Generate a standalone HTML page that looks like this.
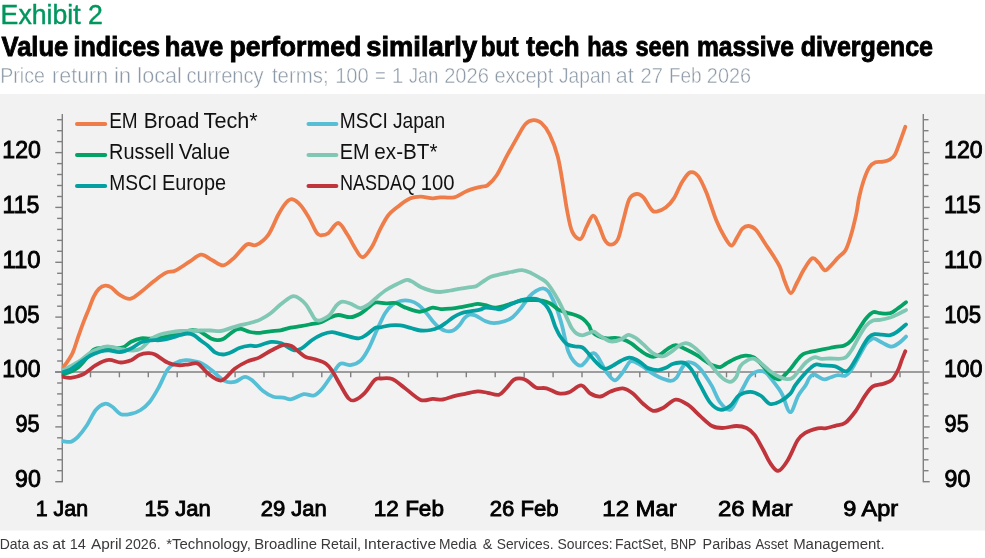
<!DOCTYPE html>
<html><head><meta charset="utf-8"><title>Exhibit 2</title>
<style>html,body{margin:0;padding:0;background:#fff;width:985px;height:558px;overflow:hidden}svg{display:block}</style>
</head><body>
<svg width="985" height="558" viewBox="0 0 985 558">
<rect x="0" y="0" width="985" height="558" fill="#fff"/>
<rect x="0" y="94" width="985" height="436.6" fill="#F2F2F2"/>
<text x="0.6" y="23.6" font-family="Liberation Sans, sans-serif" font-size="28" fill="#00965E" stroke="#00965E" stroke-width="0.45" textLength="102.3" lengthAdjust="spacingAndGlyphs">Exhibit 2</text>
<g font-family="Liberation Sans, sans-serif" font-size="27.5" font-weight="bold" fill="#000" stroke="#000" stroke-width="0.9"><text y="55.7" x="1.53" textLength="66.8" lengthAdjust="spacingAndGlyphs">Value</text><text y="55.7" x="73.53" textLength="86.57" lengthAdjust="spacingAndGlyphs">indices</text><text y="55.7" x="164.8" textLength="58.41" lengthAdjust="spacingAndGlyphs">have</text><text y="55.7" x="229.39" textLength="131.93" lengthAdjust="spacingAndGlyphs">performed</text><text y="55.7" x="366.2" textLength="111.01" lengthAdjust="spacingAndGlyphs">similarly</text><text y="55.7" x="480.8" textLength="37.7" lengthAdjust="spacingAndGlyphs">but</text><text y="55.7" x="526.3" textLength="53.22" lengthAdjust="spacingAndGlyphs">tech</text><text y="55.7" x="587.21" textLength="40.64" lengthAdjust="spacingAndGlyphs">has</text><text y="55.7" x="635.47" textLength="53.85" lengthAdjust="spacingAndGlyphs">seen</text><text y="55.7" x="696.88" textLength="97.14" lengthAdjust="spacingAndGlyphs">massive</text><text y="55.7" x="800.72" textLength="132.31" lengthAdjust="spacingAndGlyphs">divergence</text></g>
<g font-family="Liberation Sans, sans-serif" font-size="21.2" fill="#8C99A7" stroke="#fff" stroke-width="0.45" paint-order="fill stroke"><text y="83.1" x="0.18" textLength="44.67" lengthAdjust="spacingAndGlyphs">Price</text><text y="83.1" x="52.08" textLength="56.1" lengthAdjust="spacingAndGlyphs">return</text><text y="83.1" x="113.92" textLength="17.36" lengthAdjust="spacingAndGlyphs">in</text><text y="83.1" x="137.37" textLength="44.49" lengthAdjust="spacingAndGlyphs">local</text><text y="83.1" x="186.55" textLength="77.09" lengthAdjust="spacingAndGlyphs">currency</text><text y="83.1" x="271.96" textLength="56.63" lengthAdjust="spacingAndGlyphs">terms;</text><text y="83.1" x="335.17" textLength="33.64" lengthAdjust="spacingAndGlyphs">100</text><text y="83.1" x="375.12" textLength="10.87" lengthAdjust="spacingAndGlyphs">=</text><text y="83.1" x="391.82" textLength="11.61" lengthAdjust="spacingAndGlyphs">1</text><text y="83.1" x="409.07" textLength="29.14" lengthAdjust="spacingAndGlyphs">Jan</text><text y="83.1" x="444.15" textLength="44.8" lengthAdjust="spacingAndGlyphs">2026</text><text y="83.1" x="494.46" textLength="58.82" lengthAdjust="spacingAndGlyphs">except</text><text y="83.1" x="559.05" textLength="52.19" lengthAdjust="spacingAndGlyphs">Japan</text><text y="83.1" x="615.89" textLength="17.89" lengthAdjust="spacingAndGlyphs">at</text><text y="83.1" x="640.45" textLength="22.48" lengthAdjust="spacingAndGlyphs">27</text><text y="83.1" x="668.93" textLength="32.76" lengthAdjust="spacingAndGlyphs">Feb</text><text y="83.1" x="706.86" textLength="44.17" lengthAdjust="spacingAndGlyphs">2026</text></g>
<g stroke="#808080" stroke-width="1.4" fill="none"><line x1="62.3" y1="114" x2="62.3" y2="482.2" /><line x1="923.3" y1="114" x2="923.3" y2="482.2" /><line x1="55.3" y1="481.7" x2="62.3" y2="481.7" /><line x1="923.3" y1="481.7" x2="929.6999999999999" y2="481.7" /><line x1="57.099999999999994" y1="470.7" x2="62.3" y2="470.7" /><line x1="923.3" y1="470.7" x2="928.5" y2="470.7" /><line x1="57.099999999999994" y1="459.8" x2="62.3" y2="459.8" /><line x1="923.3" y1="459.8" x2="928.5" y2="459.8" /><line x1="57.099999999999994" y1="448.8" x2="62.3" y2="448.8" /><line x1="923.3" y1="448.8" x2="928.5" y2="448.8" /><line x1="57.099999999999994" y1="437.8" x2="62.3" y2="437.8" /><line x1="923.3" y1="437.8" x2="928.5" y2="437.8" /><line x1="55.3" y1="426.9" x2="62.3" y2="426.9" /><line x1="923.3" y1="426.9" x2="929.6999999999999" y2="426.9" /><line x1="57.099999999999994" y1="415.9" x2="62.3" y2="415.9" /><line x1="923.3" y1="415.9" x2="928.5" y2="415.9" /><line x1="57.099999999999994" y1="404.9" x2="62.3" y2="404.9" /><line x1="923.3" y1="404.9" x2="928.5" y2="404.9" /><line x1="57.099999999999994" y1="393.9" x2="62.3" y2="393.9" /><line x1="923.3" y1="393.9" x2="928.5" y2="393.9" /><line x1="57.099999999999994" y1="383.0" x2="62.3" y2="383.0" /><line x1="923.3" y1="383.0" x2="928.5" y2="383.0" /><line x1="55.3" y1="372.0" x2="62.3" y2="372.0" /><line x1="923.3" y1="372.0" x2="929.6999999999999" y2="372.0" /><line x1="57.099999999999994" y1="361.0" x2="62.3" y2="361.0" /><line x1="923.3" y1="361.0" x2="928.5" y2="361.0" /><line x1="57.099999999999994" y1="350.1" x2="62.3" y2="350.1" /><line x1="923.3" y1="350.1" x2="928.5" y2="350.1" /><line x1="57.099999999999994" y1="339.1" x2="62.3" y2="339.1" /><line x1="923.3" y1="339.1" x2="928.5" y2="339.1" /><line x1="57.099999999999994" y1="328.1" x2="62.3" y2="328.1" /><line x1="923.3" y1="328.1" x2="928.5" y2="328.1" /><line x1="55.3" y1="317.1" x2="62.3" y2="317.1" /><line x1="923.3" y1="317.1" x2="929.6999999999999" y2="317.1" /><line x1="57.099999999999994" y1="306.2" x2="62.3" y2="306.2" /><line x1="923.3" y1="306.2" x2="928.5" y2="306.2" /><line x1="57.099999999999994" y1="295.2" x2="62.3" y2="295.2" /><line x1="923.3" y1="295.2" x2="928.5" y2="295.2" /><line x1="57.099999999999994" y1="284.2" x2="62.3" y2="284.2" /><line x1="923.3" y1="284.2" x2="928.5" y2="284.2" /><line x1="57.099999999999994" y1="273.3" x2="62.3" y2="273.3" /><line x1="923.3" y1="273.3" x2="928.5" y2="273.3" /><line x1="55.3" y1="262.3" x2="62.3" y2="262.3" /><line x1="923.3" y1="262.3" x2="929.6999999999999" y2="262.3" /><line x1="57.099999999999994" y1="251.3" x2="62.3" y2="251.3" /><line x1="923.3" y1="251.3" x2="928.5" y2="251.3" /><line x1="57.099999999999994" y1="240.4" x2="62.3" y2="240.4" /><line x1="923.3" y1="240.4" x2="928.5" y2="240.4" /><line x1="57.099999999999994" y1="229.4" x2="62.3" y2="229.4" /><line x1="923.3" y1="229.4" x2="928.5" y2="229.4" /><line x1="57.099999999999994" y1="218.4" x2="62.3" y2="218.4" /><line x1="923.3" y1="218.4" x2="928.5" y2="218.4" /><line x1="55.3" y1="207.4" x2="62.3" y2="207.4" /><line x1="923.3" y1="207.4" x2="929.6999999999999" y2="207.4" /><line x1="57.099999999999994" y1="196.5" x2="62.3" y2="196.5" /><line x1="923.3" y1="196.5" x2="928.5" y2="196.5" /><line x1="57.099999999999994" y1="185.5" x2="62.3" y2="185.5" /><line x1="923.3" y1="185.5" x2="928.5" y2="185.5" /><line x1="57.099999999999994" y1="174.5" x2="62.3" y2="174.5" /><line x1="923.3" y1="174.5" x2="928.5" y2="174.5" /><line x1="57.099999999999994" y1="163.6" x2="62.3" y2="163.6" /><line x1="923.3" y1="163.6" x2="928.5" y2="163.6" /><line x1="55.3" y1="152.6" x2="62.3" y2="152.6" /><line x1="923.3" y1="152.6" x2="929.6999999999999" y2="152.6" /><line x1="57.099999999999994" y1="141.6" x2="62.3" y2="141.6" /><line x1="923.3" y1="141.6" x2="928.5" y2="141.6" /><line x1="57.099999999999994" y1="130.7" x2="62.3" y2="130.7" /><line x1="923.3" y1="130.7" x2="928.5" y2="130.7" /><line x1="57.099999999999994" y1="119.7" x2="62.3" y2="119.7" /><line x1="923.3" y1="119.7" x2="928.5" y2="119.7" /><line x1="55" y1="372.0" x2="923.3" y2="372.0" /><line x1="90.5" y1="372.0" x2="90.5" y2="377.3" /><line x1="119.4" y1="372.0" x2="119.4" y2="377.3" /><line x1="148.3" y1="372.0" x2="148.3" y2="377.3" /><line x1="177.2" y1="372.0" x2="177.2" y2="377.3" /><line x1="206.2" y1="372.0" x2="206.2" y2="377.3" /><line x1="235.1" y1="372.0" x2="235.1" y2="377.3" /><line x1="264.0" y1="372.0" x2="264.0" y2="377.3" /><line x1="292.9" y1="372.0" x2="292.9" y2="377.3" /><line x1="321.8" y1="372.0" x2="321.8" y2="377.3" /><line x1="350.7" y1="372.0" x2="350.7" y2="377.3" /><line x1="379.6" y1="372.0" x2="379.6" y2="377.3" /><line x1="408.5" y1="372.0" x2="408.5" y2="377.3" /><line x1="437.4" y1="372.0" x2="437.4" y2="377.3" /><line x1="466.3" y1="372.0" x2="466.3" y2="377.3" /><line x1="495.2" y1="372.0" x2="495.2" y2="377.3" /><line x1="524.2" y1="372.0" x2="524.2" y2="377.3" /><line x1="553.1" y1="372.0" x2="553.1" y2="377.3" /><line x1="582.0" y1="372.0" x2="582.0" y2="377.3" /><line x1="610.9" y1="372.0" x2="610.9" y2="377.3" /><line x1="639.8" y1="372.0" x2="639.8" y2="377.3" /><line x1="668.7" y1="372.0" x2="668.7" y2="377.3" /><line x1="697.6" y1="372.0" x2="697.6" y2="377.3" /><line x1="726.5" y1="372.0" x2="726.5" y2="377.3" /><line x1="755.4" y1="372.0" x2="755.4" y2="377.3" /><line x1="784.4" y1="372.0" x2="784.4" y2="377.3" /><line x1="813.3" y1="372.0" x2="813.3" y2="377.3" /><line x1="842.2" y1="372.0" x2="842.2" y2="377.3" /><line x1="871.1" y1="372.0" x2="871.1" y2="377.3" /><line x1="900.0" y1="372.0" x2="900.0" y2="377.3" /></g>
<defs><clipPath id="pc"><rect x="61.7" y="94" width="900" height="437"/></clipPath></defs><g clip-path="url(#pc)" fill="none" stroke-width="3.8" stroke-linecap="round" stroke-linejoin="round">
<path d="M62.0,368.7C62.8,367.6 65.3,364.6 66.9,362.4C68.5,360.1 70.2,357.3 71.4,355.2C72.6,353.1 72.6,353.3 73.8,350.0C75.0,346.7 77.1,340.0 78.8,335.2C80.5,330.4 82.1,325.8 83.8,321.4C85.5,317.0 87.2,313.1 88.9,308.9C90.6,304.7 92.2,299.6 93.9,296.3C95.6,293.0 97.0,290.6 98.9,288.8C100.8,287.0 103.1,285.8 105.2,285.6C107.3,285.4 109.1,286.0 111.4,287.5C113.7,289.0 115.9,292.5 119.0,294.4C122.1,296.3 126.3,299.3 130.0,298.9C133.7,298.5 137.3,294.7 141.2,291.8C145.1,288.9 149.3,284.8 153.4,281.6C157.5,278.5 161.9,274.8 165.6,272.9C169.3,271.0 171.6,272.4 175.7,270.5C179.8,268.6 185.8,263.9 190.0,261.3C194.2,258.7 197.4,254.8 201.1,254.6C204.8,254.4 208.6,258.5 212.3,260.3C216.0,262.1 219.8,265.9 223.5,265.4C227.2,264.9 230.7,260.8 234.6,257.3C238.5,253.8 243.2,246.6 246.8,244.5C250.4,242.4 252.5,246.6 256.1,245.0C259.7,243.4 264.6,239.9 268.3,234.8C272.0,229.7 275.4,219.9 278.4,214.5C281.4,209.1 284.1,204.8 286.5,202.3C288.9,199.8 290.2,198.8 292.6,199.3C295.0,199.8 298.1,202.4 300.8,205.4C303.5,208.4 306.2,213.0 308.9,217.6C311.6,222.2 314.8,230.3 317.0,233.2C319.2,236.1 320.2,235.2 322.1,235.2C324.0,235.2 325.5,235.2 328.2,233.2C330.9,231.2 335.1,222.7 338.3,223.0C341.5,223.3 344.6,230.5 347.5,234.8C350.4,239.1 353.1,245.3 355.6,249.0C358.1,252.7 360.0,257.5 362.7,257.2C365.4,256.9 368.9,251.6 371.8,247.0C374.7,242.4 377.3,234.9 380.0,229.7C382.7,224.4 385.1,219.4 388.1,215.5C391.1,211.6 394.5,209.3 398.2,206.4C401.9,203.5 406.7,199.9 410.4,198.3C414.1,196.7 416.9,196.6 420.6,196.6C424.3,196.6 429.5,198.2 432.7,198.3C435.9,198.4 436.4,197.5 440.0,197.3C443.6,197.1 449.8,198.3 454.2,197.3C458.6,196.3 462.0,192.9 466.4,191.2C470.8,189.4 477.1,187.8 480.6,186.8C484.2,185.8 485.0,187.1 487.7,185.1C490.4,183.1 493.7,179.9 496.9,175.0C500.1,170.1 503.6,162.0 507.0,155.7C510.4,149.4 514.2,142.7 517.2,137.4C520.2,132.2 522.6,127.1 525.3,124.2C528.0,121.3 530.7,120.4 533.4,120.2C536.1,120.0 538.8,120.8 541.5,123.2C544.2,125.6 546.9,128.8 549.6,134.4C552.3,140.0 555.6,148.3 557.8,156.7C560.0,165.1 561.5,176.1 563.0,185.0C564.5,193.9 565.5,202.2 567.0,210.0C568.5,217.8 570.0,227.1 572.3,231.9C574.5,236.7 578.1,239.8 580.5,239.0C582.9,238.2 584.4,230.8 586.5,226.9C588.6,223.0 591.0,216.0 593.0,215.7C595.0,215.3 596.7,220.8 598.7,224.8C600.7,228.9 602.8,236.7 604.8,240.0C606.8,243.3 608.7,244.9 610.9,244.7C613.1,244.5 616.0,243.0 618.0,239.0C620.0,235.0 621.2,227.4 623.1,220.8C625.0,214.2 627.0,203.9 629.2,199.4C631.4,194.9 633.9,194.3 636.3,194.0C638.7,193.7 640.9,194.8 643.4,197.4C645.9,200.0 649.3,207.2 651.5,209.6C653.7,212.0 654.2,211.9 656.6,211.6C659.0,211.3 662.8,209.8 665.7,207.6C668.6,205.4 671.2,202.6 673.9,198.4C676.6,194.2 679.3,186.5 682.0,182.2C684.7,177.9 687.4,173.4 690.1,172.4C692.8,171.4 695.5,172.8 698.2,176.1C700.9,179.4 703.2,184.9 706.3,192.3C709.3,199.8 713.5,213.4 716.5,220.8C719.5,228.2 722.1,232.9 724.6,237.0C727.1,241.1 729.3,245.5 731.4,245.6C733.5,245.7 735.2,240.4 737.0,237.6C738.8,234.8 740.4,230.6 742.4,228.7C744.4,226.8 746.5,225.8 748.7,226.0C750.9,226.2 753.1,226.8 755.8,229.6C758.5,232.4 761.8,238.5 764.8,243.0C767.8,247.5 771.3,252.5 773.8,256.5C776.3,260.5 778.2,263.2 780.0,267.2C781.8,271.2 782.7,276.4 784.5,280.7C786.3,285.0 788.7,292.9 790.8,293.2C792.9,293.5 794.9,286.5 797.1,282.5C799.3,278.5 801.7,273.0 804.2,269.0C806.7,265.0 809.9,259.4 812.3,258.3C814.7,257.2 816.5,260.7 818.6,262.7C820.7,264.7 822.8,269.9 824.9,270.3C827.0,270.8 828.9,267.5 831.1,265.4C833.3,263.2 835.9,259.9 838.3,257.4C840.7,254.9 843.4,253.8 845.5,250.2C847.6,246.6 849.0,241.8 850.8,235.8C852.6,229.8 854.8,220.6 856.2,214.3C857.6,208.0 857.8,203.6 859.0,198.0C860.2,192.4 861.8,186.1 863.5,181.0C865.2,175.9 867.4,170.3 869.4,167.2C871.4,164.1 873.1,163.2 875.4,162.3C877.7,161.4 880.8,162.2 883.3,161.7C885.8,161.2 888.2,160.5 890.2,159.3C892.2,158.1 893.5,157.4 895.1,154.4C896.7,151.4 898.3,146.2 900.0,141.6C901.7,137.0 904.4,129.3 905.3,126.8" stroke="#EF7D4A" />
<path d="M62.5,441.1C63.9,441.2 68.2,442.5 70.8,441.8C73.4,441.1 75.2,439.6 77.9,436.9C80.6,434.1 83.9,429.8 86.9,425.3C89.9,420.8 92.8,413.6 95.8,410.0C98.8,406.4 102.1,404.4 104.8,403.8C107.5,403.2 109.3,404.8 112.0,406.5C114.7,408.2 117.6,413.0 120.9,414.2C124.2,415.4 128.4,414.3 131.7,413.6C135.0,412.9 137.7,411.9 140.7,410.0C143.7,408.1 146.6,405.7 149.6,402.0C152.6,398.3 155.6,393.0 158.6,387.6C161.6,382.2 164.8,373.7 167.5,369.7C170.2,365.7 171.7,365.0 174.7,363.4C177.7,361.8 181.9,360.5 185.5,360.2C189.1,359.9 193.4,361.1 196.2,361.7C199.0,362.3 199.5,362.2 202.2,363.7C204.9,365.2 208.6,367.9 212.3,370.8C216.0,373.7 220.8,379.0 224.5,380.9C228.2,382.8 231.3,382.6 234.7,381.9C238.1,381.2 241.8,377.1 244.8,376.9C247.8,376.7 249.8,378.5 252.9,380.9C256.0,383.3 259.7,388.5 263.1,391.1C266.5,393.8 269.8,395.7 273.2,396.8C276.6,397.9 280.3,397.2 283.4,397.6C286.4,398.0 288.1,399.8 291.5,399.2C294.9,398.6 300.0,394.7 303.7,394.1C307.4,393.5 310.8,396.4 313.9,395.5C316.9,394.6 319.0,392.4 322.0,389.0C325.0,385.6 329.1,379.0 332.1,374.8C335.2,370.6 337.2,365.3 340.3,363.7C343.4,362.1 347.0,365.6 350.4,365.1C353.8,364.6 357.6,363.4 360.6,360.6C363.7,357.8 366.0,353.5 368.7,348.4C371.4,343.3 374.9,334.4 376.8,330.2C378.7,326.0 378.6,326.2 380.0,323.4C381.4,320.6 383.1,316.2 385.1,313.2C387.1,310.1 389.7,307.1 392.2,305.1C394.7,303.1 397.2,301.7 400.3,301.0C403.4,300.3 407.4,300.3 410.5,301.0C413.6,301.7 416.1,303.2 418.6,305.1C421.1,307.0 423.3,309.5 425.7,312.2C428.1,314.9 430.6,318.8 432.8,321.3C435.0,323.8 436.7,325.8 438.9,327.4C441.1,329.0 443.6,330.5 446.0,331.0C448.4,331.5 450.9,331.4 453.1,330.5C455.3,329.6 457.3,327.4 459.2,325.4C461.1,323.4 462.6,320.1 464.3,318.3C466.0,316.5 467.5,315.2 469.3,314.7C471.1,314.2 472.7,314.4 475.4,315.5C478.1,316.6 482.6,320.0 485.7,321.3C488.8,322.6 490.7,323.1 493.8,323.1C496.9,323.1 501.4,322.3 504.5,321.3C507.6,320.3 509.8,319.5 512.6,317.2C515.4,314.9 518.4,311.1 521.2,307.7C524.0,304.2 526.8,299.3 529.3,296.5C531.8,293.7 533.8,292.2 536.1,290.8C538.4,289.4 541.2,288.2 543.2,288.3C545.2,288.4 546.8,289.6 548.3,291.3C549.8,293.0 550.9,295.7 552.3,298.4C553.6,301.1 555.2,304.6 556.4,307.6C557.6,310.7 558.4,313.6 559.4,316.7C560.4,319.8 561.2,322.4 562.2,326.2C563.2,330.0 564.2,335.2 565.2,339.4C566.2,343.6 566.9,347.9 568.3,351.5C569.7,355.1 571.4,358.3 573.4,360.7C575.4,363.1 578.5,365.5 580.5,365.7C582.5,365.9 583.8,363.5 585.5,361.7C587.2,359.9 589.2,356.0 590.6,354.6C592.0,353.2 592.5,352.8 593.7,353.1C594.9,353.4 596.2,354.5 597.7,356.6C599.2,358.7 601.3,363.1 602.8,365.7C604.3,368.3 604.5,369.8 606.5,372.2C608.5,374.6 612.0,380.3 614.7,380.3C617.4,380.3 620.2,375.3 622.8,372.2C625.4,369.1 628.0,363.1 630.2,361.5C632.5,359.9 634.1,361.8 636.3,362.7C638.5,363.6 641.4,365.5 643.4,366.8C645.4,368.1 645.6,369.0 648.1,370.6C650.6,372.2 654.6,375.0 658.3,376.7C662.0,378.4 667.5,380.6 670.5,380.8C673.5,381.0 674.6,379.7 676.5,377.7C678.4,375.7 679.9,371.1 681.6,368.6C683.3,366.1 684.7,363.4 686.7,362.5C688.7,361.6 691.4,362.3 693.8,363.5C696.2,364.7 698.9,367.4 700.9,369.6C702.9,371.8 704.1,373.9 706.0,376.7C707.9,379.5 709.7,382.1 712.1,386.4C714.5,390.7 717.2,398.7 720.3,402.6C723.3,406.5 727.4,410.7 730.4,409.7C733.4,408.7 736.2,400.5 738.5,396.5C740.8,392.5 742.2,389.2 744.2,385.7C746.2,382.2 747.9,377.9 750.3,375.5C752.7,373.1 755.9,371.5 758.4,371.0C760.9,370.5 763.1,370.9 765.5,372.5C767.9,374.1 770.4,377.9 772.6,380.6C774.8,383.3 777.0,386.3 778.7,388.7C780.4,391.1 780.7,391.3 782.6,395.2C784.5,399.1 787.6,412.1 790.2,412.2C792.8,412.3 795.7,400.1 798.3,395.6C800.9,391.1 804.0,388.0 805.8,385.1C807.6,382.2 808.0,379.8 809.3,378.0C810.6,376.2 812.2,374.6 813.7,374.4C815.2,374.1 816.2,375.7 818.0,376.5C819.8,377.3 822.2,379.3 824.4,379.4C826.5,379.5 828.6,377.9 830.9,377.2C833.2,376.5 835.6,375.3 838.0,375.1C840.4,374.9 843.3,376.3 845.2,375.8C847.1,375.3 848.1,373.9 849.5,372.2C850.9,370.5 851.1,370.3 853.8,365.8C856.4,361.3 862.7,349.3 865.4,345.0C868.1,340.7 868.6,341.3 870.1,340.2C871.6,339.1 872.2,338.0 874.4,338.5C876.5,339.0 880.1,341.8 883.0,343.1C885.9,344.5 889.0,346.6 891.6,346.6C894.2,346.6 896.4,344.8 898.8,343.1C901.2,341.4 904.8,337.7 906.0,336.6" stroke="#56BFD6" />
<path d="M62.0,374.0C63.3,373.7 67.3,373.1 70.0,372.0C72.7,370.9 75.5,369.5 78.0,367.5C80.5,365.5 82.9,362.4 85.0,360.0C87.1,357.6 88.8,354.8 90.5,353.0C92.2,351.2 92.1,349.9 95.0,349.0C97.9,348.1 104.7,347.7 108.0,347.5C111.3,347.3 112.5,348.0 115.0,348.0C117.5,348.0 120.3,348.4 123.0,347.4C125.7,346.4 128.1,343.3 131.1,341.8C134.1,340.3 138.0,338.8 141.2,338.3C144.3,337.8 146.8,338.7 150.0,338.6C153.2,338.5 156.8,338.1 160.2,337.6C163.6,337.1 166.9,336.4 170.3,335.5C173.7,334.6 177.1,333.4 180.5,332.5C183.9,331.6 187.6,330.6 190.6,330.3C193.6,330.1 196.3,330.3 198.7,331.0C201.1,331.7 202.8,333.3 204.8,334.5C206.8,335.7 208.9,337.5 210.9,338.4C212.9,339.3 215.0,340.0 217.0,340.1C219.0,340.2 221.1,340.0 223.1,339.1C225.1,338.2 227.0,336.1 229.2,334.5C231.4,332.9 234.3,330.3 236.3,329.4C238.3,328.5 239.1,328.5 241.4,328.9C243.7,329.3 246.9,331.4 250.0,332.0C253.1,332.6 256.8,332.9 260.2,332.8C263.6,332.7 266.9,331.7 270.3,331.3C273.7,330.9 277.1,330.9 280.5,330.3C283.9,329.7 287.2,328.4 290.6,327.7C294.0,327.0 297.4,326.8 300.8,326.2C304.2,325.6 307.5,324.9 310.9,324.2C314.3,323.5 318.1,323.1 321.1,322.1C324.2,321.1 326.3,319.3 329.2,318.1C332.1,316.9 334.8,315.1 338.3,315.0C341.8,314.9 346.5,317.4 350.2,317.2C353.9,317.0 357.3,315.3 360.3,313.7C363.3,312.1 365.9,309.5 368.4,307.6C370.9,305.7 372.6,303.2 375.5,302.5C378.4,301.8 382.3,303.2 385.7,303.3C389.1,303.4 392.5,302.3 395.8,303.0C399.1,303.7 401.6,306.2 405.4,307.6C409.2,309.1 415.2,311.3 418.6,311.7C422.0,312.1 423.3,310.9 425.7,310.2C428.1,309.5 430.3,307.8 432.8,307.6C435.3,307.4 437.8,308.9 440.9,309.1C443.9,309.3 447.7,308.9 451.1,308.6C454.5,308.3 457.8,307.7 461.2,307.1C464.6,306.5 468.7,305.6 471.4,305.1C474.1,304.6 475.2,303.9 477.6,303.9C480.0,303.9 482.7,304.6 485.7,305.2C488.7,305.8 491.6,307.9 495.8,307.7C500.0,307.4 506.9,304.9 511.1,303.7C515.3,302.5 517.8,301.2 521.2,300.6C524.6,300.0 527.9,300.1 531.4,300.1C534.9,300.1 539.1,299.9 542.2,300.5C545.4,301.1 547.6,302.0 550.3,303.5C553.0,305.0 555.7,308.1 558.4,309.6C561.1,311.1 563.6,311.7 566.5,312.6C569.4,313.5 573.0,314.2 575.7,315.2C578.4,316.2 580.6,317.0 582.8,318.7C585.0,320.4 587.4,323.2 588.9,325.3C590.4,327.4 590.0,329.4 591.6,331.2C593.2,333.0 596.2,335.1 598.7,336.3C601.2,337.5 604.2,338.1 606.9,338.3C609.6,338.6 612.3,337.6 615.0,337.8C617.7,338.0 620.4,338.5 623.1,339.4C625.8,340.3 628.4,341.6 631.2,343.4C634.0,345.2 637.5,348.5 640.0,350.3C642.5,352.1 643.9,353.3 646.1,354.4C648.3,355.5 650.8,356.9 653.2,356.9C655.6,356.9 657.8,355.8 660.3,354.4C662.8,353.0 665.9,349.8 668.4,348.3C670.9,346.8 673.1,345.3 675.5,345.2C677.9,345.1 680.1,346.7 682.6,347.8C685.1,348.9 688.1,350.4 690.8,351.8C693.5,353.2 696.4,354.8 698.9,356.4C701.4,358.0 703.6,360.0 706.0,361.5C708.4,363.0 710.7,364.6 713.1,365.5C715.5,366.4 718.0,367.4 720.2,367.1C722.4,366.8 723.6,365.0 726.3,363.5C728.9,362.0 733.0,359.6 736.1,358.3C739.2,357.0 742.3,355.9 745.2,355.7C748.1,355.5 750.9,356.0 753.4,357.3C755.9,358.6 758.0,360.9 760.5,363.4C763.0,365.9 766.2,370.1 768.6,372.5C771.0,374.9 772.9,377.0 774.7,378.1C776.6,379.2 778.0,379.6 779.7,379.1C781.4,378.6 782.9,376.8 784.8,375.0C786.7,373.2 788.9,370.8 790.9,368.4C792.9,365.9 795.0,362.7 797.0,360.3C799.0,357.9 800.7,355.6 803.1,354.2C805.5,352.8 808.2,352.5 811.2,351.7C814.2,350.9 818.3,350.2 821.4,349.6C824.5,349.0 827.4,348.5 830.0,348.0C832.6,347.5 834.8,347.0 837.2,346.6C839.6,346.2 841.9,346.7 844.3,345.6C846.7,344.5 849.1,342.9 851.5,340.2C853.9,337.5 856.3,333.0 858.7,329.4C861.1,325.8 863.4,321.6 865.8,318.7C868.2,315.8 870.6,313.1 873.0,312.2C875.4,311.3 877.3,313.0 880.2,313.2C883.1,313.4 887.3,313.9 890.2,313.2C893.1,312.4 894.8,310.5 897.4,308.7C900.0,306.9 904.6,303.3 906.0,302.2" stroke="#04A264" />
<path d="M62.0,370.8C63.3,370.1 67.0,368.2 70.0,366.5C73.0,364.8 76.9,362.9 80.3,360.6C83.7,358.3 87.5,354.4 90.5,352.5C93.5,350.6 95.1,350.0 98.0,349.0C100.9,348.0 103.9,346.4 107.7,346.4C111.5,346.4 116.8,348.3 121.0,349.0C125.2,349.7 129.7,350.6 133.1,350.5C136.5,350.4 138.1,350.3 141.2,348.4C144.2,346.4 148.2,341.1 151.4,338.8C154.6,336.5 157.0,335.6 160.2,334.5C163.3,333.4 166.9,332.9 170.3,332.3C173.7,331.7 177.1,331.2 180.5,331.0C183.9,330.8 187.2,331.1 190.6,331.0C194.0,330.9 197.4,330.6 200.8,330.5C204.2,330.4 207.5,330.4 210.9,330.5C214.3,330.6 217.7,331.4 221.1,331.0C224.5,330.6 227.8,328.9 231.2,327.9C234.6,326.9 238.3,325.7 241.4,324.9C244.5,324.1 246.9,323.9 250.0,323.0C253.1,322.1 256.8,321.2 260.2,319.6C263.6,318.0 266.9,316.0 270.3,313.5C273.7,311.0 277.4,306.9 280.5,304.4C283.6,301.9 286.4,299.7 288.6,298.3C290.8,296.9 291.9,296.1 293.7,296.2C295.5,296.3 297.7,297.4 299.7,298.8C301.7,300.2 303.9,302.1 305.8,304.4C307.7,306.7 309.4,310.1 310.9,312.5C312.4,314.9 313.6,317.8 315.0,319.1C316.4,320.5 317.3,320.8 319.0,320.6C320.7,320.4 323.2,319.1 325.1,318.1C327.0,317.1 328.5,316.4 330.2,314.5C331.9,312.6 333.4,309.0 335.3,306.9C337.2,304.8 338.9,302.4 341.4,301.8C343.9,301.2 347.0,302.4 350.2,303.5C353.4,304.6 357.3,307.9 360.3,308.1C363.3,308.3 365.9,306.1 368.4,304.5C370.9,302.9 372.6,300.8 375.5,298.4C378.4,296.0 382.3,292.6 385.7,290.3C389.1,288.0 392.9,286.2 395.8,284.7C398.7,283.2 401.0,282.0 403.0,281.2C405.0,280.4 406.3,279.8 408.0,280.0C409.7,280.2 410.9,281.0 413.1,282.2C415.3,283.4 418.1,285.9 421.2,287.3C424.2,288.7 428.3,290.0 431.4,290.8C434.5,291.6 436.9,292.1 440.0,292.0C443.1,291.9 446.8,291.1 450.2,290.5C453.6,289.9 456.9,289.2 460.3,288.7C463.7,288.1 467.8,287.7 470.5,287.2C473.2,286.7 474.5,286.8 476.5,285.9C478.5,285.0 480.2,283.3 482.6,281.8C485.0,280.3 487.8,278.1 490.8,276.8C493.9,275.5 497.5,275.0 500.9,274.2C504.3,273.4 507.6,272.7 511.1,272.0C514.7,271.3 518.8,270.0 522.2,270.2C525.6,270.4 528.4,271.9 531.4,273.2C534.4,274.5 537.7,276.6 540.2,278.1C542.7,279.6 544.2,280.2 546.2,282.2C548.2,284.2 550.3,287.2 552.3,290.3C554.3,293.4 556.5,297.1 558.4,300.5C560.3,303.9 561.8,307.1 563.5,310.6C565.2,314.2 567.2,318.8 568.6,321.8C570.0,324.8 570.7,326.6 572.0,328.5C573.3,330.4 574.6,332.2 576.4,333.3C578.1,334.4 580.5,335.3 582.5,335.3C584.5,335.3 586.7,333.9 588.6,333.3C590.5,332.7 591.7,331.2 593.7,331.7C595.7,332.2 597.9,334.7 600.8,336.3C603.7,337.9 607.5,340.9 610.9,341.4C614.3,341.9 618.2,340.5 621.1,339.4C624.0,338.3 625.7,335.0 628.2,334.8C630.7,334.6 633.8,336.7 636.3,338.3C638.8,339.9 640.6,341.9 643.4,344.4C646.2,346.9 650.1,351.4 653.2,353.4C656.4,355.4 659.4,356.6 662.3,356.4C665.2,356.2 667.8,354.0 670.5,352.3C673.2,350.6 676.1,347.7 678.6,346.2C681.1,344.7 683.3,343.2 685.7,343.2C688.1,343.2 690.3,344.5 692.8,346.2C695.3,347.9 698.2,350.7 700.9,353.4C703.6,356.1 706.5,359.5 709.0,362.5C711.5,365.5 713.7,368.9 716.1,371.6C718.5,374.3 720.8,377.0 723.2,378.7C725.6,380.4 728.2,382.1 730.4,381.8C732.6,381.5 734.8,379.3 736.4,376.7C738.0,374.1 738.4,369.1 740.2,366.4C742.0,363.7 744.9,361.6 747.3,360.3C749.7,359.0 751.9,358.1 754.4,358.8C756.9,359.5 759.8,362.3 762.5,364.4C765.2,366.5 767.9,369.5 770.6,371.5C773.3,373.5 776.0,375.2 778.7,376.5C781.4,377.8 784.5,378.9 786.9,379.1C789.3,379.3 790.9,379.0 792.9,377.6C794.9,376.2 796.8,373.1 799.0,370.5C801.2,367.9 803.6,364.5 806.1,362.3C808.6,360.1 811.8,357.9 814.3,357.3C816.8,356.7 818.8,358.6 821.4,358.8C824.0,359.0 826.2,358.6 830.0,358.5C833.8,358.4 840.7,359.5 844.3,358.1C847.9,356.7 849.1,353.7 851.5,350.2C853.9,346.7 856.3,341.4 858.7,337.3C861.1,333.2 863.4,328.7 865.8,325.9C868.2,323.1 870.6,321.6 873.0,320.6C875.4,319.6 877.3,320.3 880.2,319.8C883.1,319.3 887.1,318.5 890.2,317.5C893.3,316.5 896.2,314.9 898.8,313.7C901.4,312.5 904.8,310.7 906.0,310.1" stroke="#80C8B4" />
<path d="M62.0,372.3C63.4,371.9 67.2,371.3 70.2,369.7C73.2,368.1 76.9,365.0 80.3,362.6C83.7,360.2 87.1,357.4 90.5,355.5C93.9,353.6 97.6,352.4 100.6,351.5C103.6,350.6 105.5,350.2 108.7,350.3C111.9,350.4 116.2,352.3 119.9,352.0C123.6,351.7 127.5,350.0 131.1,348.4C134.6,346.8 137.8,343.6 141.2,342.3C144.6,341.0 148.2,340.7 151.4,340.3C154.6,339.9 157.0,340.5 160.2,340.1C163.3,339.7 166.9,339.0 170.3,338.1C173.7,337.2 177.6,335.8 180.5,335.0C183.4,334.2 185.4,333.5 187.6,333.5C189.8,333.5 191.5,333.8 193.7,335.0C195.9,336.2 198.4,338.8 200.8,340.6C203.2,342.4 205.5,343.8 207.9,345.7C210.3,347.6 212.5,350.8 215.0,352.3C217.5,353.8 220.4,354.5 223.1,354.5C225.8,354.5 228.5,353.4 231.2,352.3C233.9,351.2 236.2,349.1 239.3,348.0C242.4,346.9 247.1,346.0 250.0,345.7C252.9,345.4 253.5,346.6 257.0,346.0C260.5,345.4 267.1,342.3 271.2,341.9C275.3,341.5 277.7,342.0 281.4,343.4C285.1,344.8 290.2,349.3 293.6,350.1C297.0,350.9 298.7,350.0 301.7,348.4C304.7,346.8 308.4,342.6 311.8,340.3C315.2,338.0 318.6,336.0 322.0,334.6C325.4,333.2 328.4,332.1 332.1,332.2C335.8,332.3 339.9,334.2 344.3,335.2C348.7,336.2 354.8,338.4 358.5,338.3C362.2,338.2 363.9,336.3 366.6,334.6C369.3,332.9 372.6,329.3 374.8,328.1C377.0,326.9 377.4,327.8 380.0,327.4C382.6,326.9 386.8,325.7 390.2,325.4C393.6,325.1 396.9,325.0 400.3,325.4C403.7,325.8 407.1,327.0 410.5,327.9C413.9,328.8 417.2,330.1 420.6,330.5C424.0,330.9 427.8,330.5 430.8,330.0C433.9,329.5 436.4,328.6 438.9,327.4C441.4,326.2 443.6,324.5 446.0,322.8C448.4,321.1 450.6,318.9 453.1,317.3C455.6,315.7 458.1,314.2 461.2,313.2C464.2,312.2 468.3,311.8 471.4,311.2C474.5,310.6 477.6,310.2 480.0,309.6C482.4,309.0 483.1,307.9 485.7,307.7C488.3,307.5 493.3,308.4 495.8,308.7C498.3,308.9 498.3,309.9 500.9,309.2C503.4,308.4 507.7,305.7 511.1,304.2C514.5,302.7 517.8,301.0 521.2,300.1C524.6,299.2 528.6,298.7 531.4,298.6C534.2,298.5 535.8,298.4 538.1,299.4C540.4,300.4 543.2,302.3 545.2,304.5C547.2,306.7 548.6,309.0 550.3,312.6C551.9,316.2 553.5,322.2 555.1,326.2C556.8,330.1 558.2,333.3 560.2,336.3C562.2,339.3 564.8,342.7 567.3,344.4C569.8,346.1 572.9,346.0 575.4,346.5C577.9,347.0 580.3,346.3 582.5,347.5C584.7,348.7 586.6,351.4 588.6,353.6C590.6,355.8 592.7,358.5 594.7,360.7C596.7,362.9 598.9,365.4 600.8,366.8C602.6,368.2 603.8,369.0 605.8,368.8C607.8,368.6 610.3,367.1 612.9,365.7C615.5,364.3 618.4,362.0 621.1,360.7C623.8,359.4 626.7,357.8 629.2,357.6C631.7,357.4 633.9,358.5 636.3,359.7C638.7,360.9 641.4,363.3 643.4,364.7C645.4,366.1 645.6,367.2 648.1,368.1C650.6,369.0 655.2,370.2 658.3,370.1C661.3,370.0 664.0,368.6 666.4,367.6C668.8,366.6 670.1,364.9 672.5,364.0C674.9,363.1 678.4,362.6 680.6,362.5C682.8,362.4 684.0,362.5 685.7,363.5C687.4,364.5 689.1,366.4 690.8,368.6C692.5,370.8 694.1,373.7 695.8,376.7C697.5,379.7 698.5,382.1 700.9,386.4C703.3,390.7 706.9,398.7 710.1,402.6C713.3,406.5 716.9,409.2 720.3,409.7C723.7,410.2 727.3,408.1 730.4,405.7C733.5,403.3 735.8,397.6 739.1,395.3C742.4,393.0 746.7,391.8 750.3,391.8C753.9,391.8 757.2,393.5 760.5,395.5C763.8,397.5 766.8,403.0 770.1,404.0C773.4,405.0 776.8,403.1 780.1,401.4C783.4,399.7 787.6,396.5 790.1,393.9C792.6,391.3 792.8,388.8 795.0,385.7C797.2,382.6 800.4,378.6 803.1,375.5C805.8,372.4 809.0,369.2 811.2,367.4C813.4,365.5 814.3,364.7 816.3,364.4C818.3,364.1 820.2,365.1 823.4,365.4C826.6,365.7 831.4,365.3 835.3,366.3C839.2,367.3 843.3,372.3 846.6,371.3C849.9,370.3 852.6,364.3 855.3,360.1C858.0,355.9 860.8,349.7 863.0,345.9C865.2,342.1 866.8,339.2 868.7,337.3C870.6,335.4 872.2,334.6 874.4,334.2C876.5,333.8 879.0,334.5 881.6,334.7C884.2,334.9 887.6,335.7 890.2,335.2C892.8,334.7 894.8,333.4 897.4,331.6C900.0,329.8 904.6,325.6 906.0,324.4" stroke="#03A0A2" />
<path d="M62.0,376.5C63.5,376.7 67.2,378.2 70.8,377.8C74.3,377.4 79.1,376.3 83.3,374.2C87.5,372.1 91.6,367.6 95.8,365.2C100.0,362.8 104.2,360.3 108.4,359.9C112.6,359.4 117.0,362.5 120.9,362.5C124.8,362.5 128.6,361.1 131.7,359.9C134.8,358.6 136.5,356.1 139.2,355.0C141.9,353.9 145.2,353.3 147.8,353.2C150.4,353.1 151.7,352.9 155.0,354.5C158.3,356.1 163.6,360.7 167.5,362.5C171.4,364.3 174.7,364.9 178.3,365.2C181.9,365.5 185.7,364.6 189.0,364.3C192.3,364.1 194.9,362.1 198.1,363.7C201.3,365.3 204.4,371.0 208.3,373.8C212.2,376.6 217.1,381.4 221.5,380.5C225.9,379.6 230.5,371.8 234.7,368.7C238.9,365.6 242.8,363.5 246.9,361.6C251.0,359.8 254.9,359.5 259.0,357.6C263.1,355.8 267.1,352.6 271.2,350.5C275.3,348.4 280.0,345.6 283.4,344.8C286.8,344.1 288.8,344.7 291.5,346.0C294.2,347.3 297.2,350.7 299.6,352.5C302.0,354.3 303.0,355.8 305.7,357.0C308.4,358.2 312.5,358.5 315.9,359.6C319.3,360.7 323.3,361.8 326.0,363.7C328.7,365.6 329.7,367.2 332.1,370.8C334.5,374.4 337.6,380.4 340.3,385.0C343.0,389.6 346.0,395.7 348.4,398.2C350.8,400.7 351.8,401.0 354.5,400.2C357.2,399.4 361.2,396.5 364.6,393.1C368.0,389.7 372.1,382.3 374.8,379.9C377.5,377.5 378.0,378.6 380.9,378.5C383.8,378.4 388.3,377.5 392.2,379.0C396.1,380.5 399.7,384.2 404.4,387.7C409.1,391.2 415.9,398.0 420.6,399.9C425.3,401.8 429.1,399.0 432.8,398.9C436.5,398.8 439.2,400.0 442.9,399.5C446.6,399.0 451.4,396.8 455.1,395.8C458.8,394.9 461.6,394.5 465.3,393.8C469.0,393.1 473.8,391.6 477.5,391.4C481.2,391.2 484.1,392.2 487.6,392.8C491.2,393.4 495.8,395.5 498.8,394.8C501.9,394.1 503.4,391.2 505.9,388.7C508.4,386.2 511.3,381.3 514.0,379.6C516.7,377.9 519.7,378.3 522.1,378.6C524.5,378.9 525.8,380.1 528.2,381.6C530.6,383.1 533.2,386.6 536.3,387.7C539.3,388.8 542.8,387.4 546.5,388.3C550.2,389.2 555.0,392.7 558.7,393.4C562.4,394.1 565.0,393.7 568.8,392.4C572.5,391.1 577.6,385.2 581.2,385.4C584.8,385.6 587.1,391.6 590.3,393.5C593.5,395.4 597.1,396.8 600.5,396.5C603.9,396.2 606.9,392.9 610.6,391.5C614.3,390.1 619.1,388.1 622.8,388.4C626.5,388.7 629.5,390.9 632.9,393.5C636.3,396.1 639.7,400.8 643.1,403.7C646.5,406.6 649.8,410.1 653.2,410.8C656.6,411.5 659.7,409.6 663.4,407.7C667.1,405.8 671.5,400.1 675.6,399.6C679.7,399.1 683.7,402.0 687.8,404.7C691.9,407.4 696.0,412.2 700.0,415.8C704.0,419.4 708.4,424.0 712.1,426.0C715.8,428.0 718.2,428.0 722.3,428.0C726.4,428.0 732.5,426.0 736.5,426.0C740.5,426.0 743.6,426.5 746.6,428.0C749.6,429.5 752.1,431.6 754.8,435.1C757.5,438.7 760.3,444.7 762.9,449.3C765.5,453.9 767.6,459.3 770.1,462.9C772.6,466.5 775.2,471.3 778.1,470.9C781.0,470.5 784.4,465.5 787.6,460.4C790.9,455.3 794.7,444.9 797.6,440.3C800.5,435.7 801.9,434.8 805.2,432.8C808.6,430.8 814.4,429.1 817.7,428.3C821.0,427.6 822.3,428.7 825.2,428.3C828.1,427.9 831.9,426.7 835.3,425.8C838.6,424.9 842.0,425.2 845.3,422.8C848.6,420.4 851.9,416.1 855.3,411.5C858.6,406.9 862.5,399.4 865.4,395.2C868.3,391.0 870.0,388.3 872.9,386.4C875.8,384.5 879.8,384.9 882.9,383.9C886.0,382.8 889.2,382.4 891.7,380.1C894.2,377.8 896.3,373.4 898.0,370.1C899.7,366.8 900.5,363.2 901.7,360.1C902.9,357.0 904.7,352.7 905.3,351.2" stroke="#C0343C" />
</g>
<g font-family="Liberation Sans, sans-serif" font-size="22" fill="#111"><line x1="77" y1="123.9" x2="105.2" y2="123.9" stroke="#EF7D4A" stroke-width="4" stroke-linecap="round"/><line x1="77" y1="155.0" x2="105.2" y2="155.0" stroke="#04A264" stroke-width="4" stroke-linecap="round"/><line x1="77" y1="186.0" x2="105.2" y2="186.0" stroke="#03A0A2" stroke-width="4" stroke-linecap="round"/><line x1="308.5" y1="123.9" x2="336.4" y2="123.9" stroke="#56BFD6" stroke-width="4" stroke-linecap="round"/><line x1="308.5" y1="155.0" x2="336.4" y2="155.0" stroke="#80C8B4" stroke-width="4" stroke-linecap="round"/><line x1="308.5" y1="186.0" x2="336.4" y2="186.0" stroke="#C0343C" stroke-width="4" stroke-linecap="round"/><text x="109.19" y="127.5" textLength="28.53" lengthAdjust="spacingAndGlyphs">EM</text><text x="143.64" y="127.5" textLength="55.65" lengthAdjust="spacingAndGlyphs">Broad</text><text x="203.61" y="127.5" textLength="54.08" lengthAdjust="spacingAndGlyphs">Tech*</text><text x="109.12" y="158.6" textLength="65.03" lengthAdjust="spacingAndGlyphs">Russell</text><text x="178.66" y="158.6" textLength="51.47" lengthAdjust="spacingAndGlyphs">Value</text><text x="109.17" y="189.6" textLength="47.97" lengthAdjust="spacingAndGlyphs">MSCI</text><text x="161.92" y="189.6" textLength="64.14" lengthAdjust="spacingAndGlyphs">Europe</text><text x="339.87" y="127.5" textLength="47.97" lengthAdjust="spacingAndGlyphs">MSCI</text><text x="392.88" y="127.5" textLength="52.29" lengthAdjust="spacingAndGlyphs">Japan</text><text x="339.82" y="158.6" textLength="29.87" lengthAdjust="spacingAndGlyphs">EM</text><text x="374.36" y="158.6" textLength="63.11" lengthAdjust="spacingAndGlyphs">ex-BT*</text><text x="339.97" y="189.6" textLength="76.19" lengthAdjust="spacingAndGlyphs">NASDAQ</text><text x="420.79" y="189.6" textLength="33.88" lengthAdjust="spacingAndGlyphs">100</text></g>
<g font-family="Liberation Sans, sans-serif" font-size="24" fill="#000" stroke="#000" stroke-width="0.9"><text x="2.35" y="158.0" textLength="38.58" lengthAdjust="spacingAndGlyphs">120</text><text x="944.1" y="158.0" textLength="38.58" lengthAdjust="spacingAndGlyphs">120</text><text x="2.6" y="212.9" textLength="36.8" lengthAdjust="spacingAndGlyphs">115</text><text x="944.1" y="212.9" textLength="36.8" lengthAdjust="spacingAndGlyphs">115</text><text x="2.56" y="267.8" textLength="38.06" lengthAdjust="spacingAndGlyphs">110</text><text x="944.06" y="267.8" textLength="38.06" lengthAdjust="spacingAndGlyphs">110</text><text x="2.65" y="322.6" textLength="36.96" lengthAdjust="spacingAndGlyphs">105</text><text x="944.15" y="322.6" textLength="36.96" lengthAdjust="spacingAndGlyphs">105</text><text x="2.3" y="377.4" textLength="38.32" lengthAdjust="spacingAndGlyphs">100</text><text x="944.1" y="377.4" textLength="38.32" lengthAdjust="spacingAndGlyphs">100</text><text x="15.42" y="432.3" textLength="24.09" lengthAdjust="spacingAndGlyphs">95</text><text x="944.62" y="432.3" textLength="24.09" lengthAdjust="spacingAndGlyphs">95</text><text x="15.08" y="487.1" textLength="25.76" lengthAdjust="spacingAndGlyphs">90</text><text x="944.58" y="487.1" textLength="25.76" lengthAdjust="spacingAndGlyphs">90</text></g>
<g font-family="Liberation Sans, sans-serif" font-size="22.6" fill="#000" stroke="#000" stroke-width="0.9"><text x="35.72" y="516.4" textLength="52.36" lengthAdjust="spacingAndGlyphs">1 Jan</text><text x="144.48" y="516.4" textLength="66.29" lengthAdjust="spacingAndGlyphs">15 Jan</text><text x="260.67" y="516.4" textLength="66.1" lengthAdjust="spacingAndGlyphs">29 Jan</text><text x="373.86" y="516.4" textLength="70.04" lengthAdjust="spacingAndGlyphs">12 Feb</text><text x="489.67" y="516.4" textLength="68.92" lengthAdjust="spacingAndGlyphs">26 Feb</text><text x="602.38" y="516.4" textLength="74.44" lengthAdjust="spacingAndGlyphs">12 Mar</text><text x="717.9" y="516.4" textLength="74.61" lengthAdjust="spacingAndGlyphs">26 Mar</text><text x="843.18" y="516.4" textLength="54.94" lengthAdjust="spacingAndGlyphs">9 Apr</text></g>
<g font-family="Liberation Sans, sans-serif" font-size="15.2" fill="#3a3a3a"><text y="549.3" x="-0.25" textLength="29.54" lengthAdjust="spacingAndGlyphs">Data</text><text y="549.3" x="33.08" textLength="15.34" lengthAdjust="spacingAndGlyphs">as</text><text y="549.3" x="52.21" textLength="13.37" lengthAdjust="spacingAndGlyphs">at</text><text y="549.3" x="69.7" textLength="16.19" lengthAdjust="spacingAndGlyphs">14</text><text y="549.3" x="91.0" textLength="30.75" lengthAdjust="spacingAndGlyphs">April</text><text y="549.3" x="125.0" textLength="35.59" lengthAdjust="spacingAndGlyphs">2026.</text><text y="549.3" x="166.15" textLength="84.67" lengthAdjust="spacingAndGlyphs">*Technology,</text><text y="549.3" x="254.18" textLength="62.78" lengthAdjust="spacingAndGlyphs">Broadline</text><text y="549.3" x="320.73" textLength="40.3" lengthAdjust="spacingAndGlyphs">Retail,</text><text y="549.3" x="363.75" textLength="72.45" lengthAdjust="spacingAndGlyphs">Interactive</text><text y="549.3" x="439.07" textLength="37.52" lengthAdjust="spacingAndGlyphs">Media</text><text y="549.3" x="482.73" textLength="9.61" lengthAdjust="spacingAndGlyphs">&amp;</text><text y="549.3" x="496.72" textLength="56.82" lengthAdjust="spacingAndGlyphs">Services.</text><text y="549.3" x="557.51" textLength="55.01" lengthAdjust="spacingAndGlyphs">Sources:</text><text y="549.3" x="614.95" textLength="52.06" lengthAdjust="spacingAndGlyphs">FactSet,</text><text y="549.3" x="670.56" textLength="25.95" lengthAdjust="spacingAndGlyphs">BNP</text><text y="549.3" x="702.62" textLength="48.65" lengthAdjust="spacingAndGlyphs">Paribas</text><text y="549.3" x="755.4" textLength="32.7" lengthAdjust="spacingAndGlyphs">Asset</text><text y="549.3" x="793.17" textLength="91.49" lengthAdjust="spacingAndGlyphs">Management.</text></g>
</svg>
</body></html>
